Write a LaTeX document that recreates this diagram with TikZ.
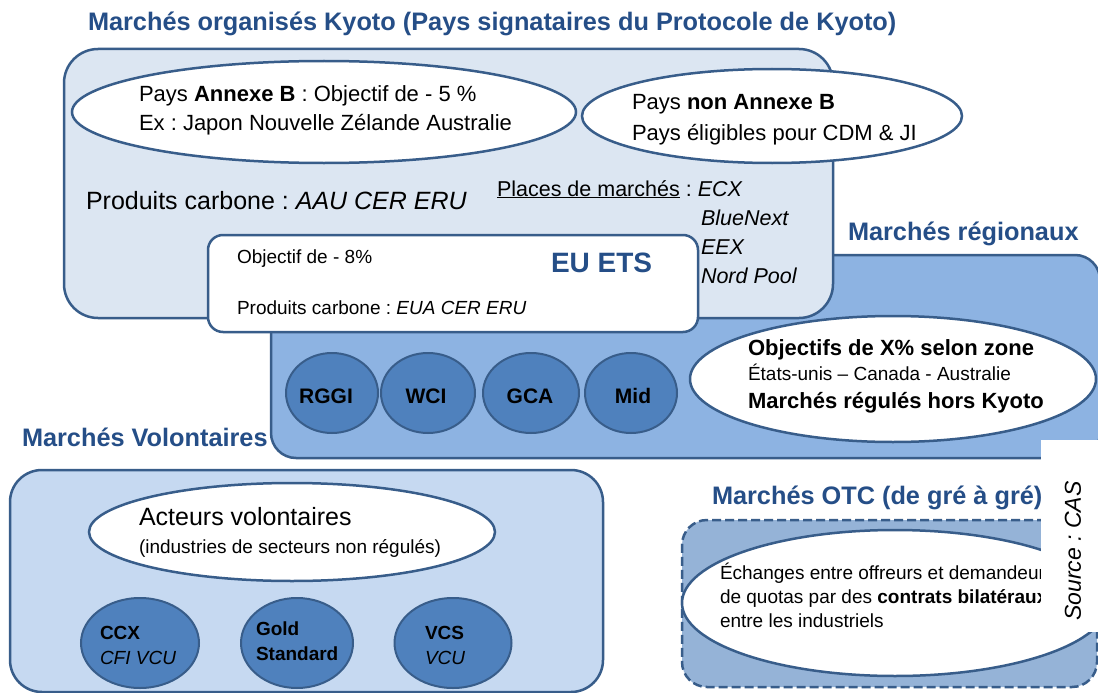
\documentclass[tikz,border=0pt]{standalone}
\usepackage{fontspec}
\setmainfont{Liberation Sans}
\usetikzlibrary{shapes.geometric}
\definecolor{titc}{RGB}{37,78,135}
\definecolor{bordc}{RGB}{56,93,138}
\definecolor{kyfill}{RGB}{220,230,242}
\definecolor{regfill}{RGB}{141,179,226}
\definecolor{circfill}{RGB}{79,129,189}
\definecolor{volfill}{RGB}{198,217,241}
\definecolor{otcfill}{RGB}{149,179,215}
\newcommand{\fsz}[1]{\fontsize{#1}{#1}\selectfont}
\frenchspacing
\begin{document}
\begin{tikzpicture}[x=1pt,y=-1pt,
  box/.style={rectangle, draw=bordc, line width=2.5pt, inner sep=0, outer sep=0},
  ell/.style={ellipse, draw=bordc, line width=2.5pt, fill=white, inner sep=0},
  circ/.style={ellipse, draw=bordc, line width=2pt, fill=circfill, inner sep=0},
  txt/.style={anchor=base west, inner sep=0, outer sep=0, text=black},
  ctxt/.style={anchor=base, inner sep=0, outer sep=0, text=black},
  title/.style={txt, text=titc, font=\fsz{25.3}\bfseries},
]
\useasboundingbox (0,0) rectangle (1098,693);
\clip (0,0) rectangle (1098,693);
\fill[white] (0,0) rectangle (1098,693);

% Regional box (behind)
\node[box, fill=regfill, rounded corners=25pt, minimum width=829pt, minimum height=203pt] (reg) at (685.5,356.5) {};
% Kyoto box
\node[box, fill=kyfill, rounded corners=34pt, minimum width=769pt, minimum height=269pt] (kyoto) at (448.5,183.5) {};
\node[ell, minimum width=504pt, minimum height=102pt] (annb) at (324,112) {};
\node[ell, minimum width=380pt, minimum height=94pt] (nonb) at (772,116) {};
\node[txt, font=\fsz{22}] (annb1) at (139,101) {Pays \textbf{Annexe B} : Objectif de - 5 \%};
\node[txt, font=\fsz{22}] (annb2) at (139,130) {Ex : Japon Nouvelle Zélande Australie};
\node[txt, font=\fsz{22}] (nonb1) at (632,110) {Pays \textbf{non Annexe B}};
\node[txt, font=\fsz{22}] (nonb2) at (632,140) {Pays éligibles pour CDM \& JI};
\node[txt, font=\fsz{25}] (prodky) at (86,209) {Produits carbone : \textit{AAU CER ERU}};

% EU ETS box
\node[box, fill=white, rounded corners=15pt, minimum width=490pt, minimum height=97pt] (euets) at (453,283.5) {};
\node[txt, font=\fsz{19}] (obj8) at (237,263) {Objectif de - 8\%};
\node[txt, font=\fsz{19}] (prodeu) at (237,314) {Produits carbone : \textit{EUA CER ERU}};
\node[txt, text=titc, font=\fsz{28}\bfseries] (eutit) at (551,272) {EU ETS};

% Places de marches
\node[txt, font=\fsz{21.5}] (pl1) at (497,196) {\underline{Places de marchés} : \textit{ECX}};
\node[txt, font=\fsz{21.5}\itshape] (pl2) at (701,225) {BlueNext};
\node[txt, font=\fsz{21.5}\itshape] (pl3) at (701,254) {EEX};
\node[txt, font=\fsz{21.5}\itshape] (pl4) at (701,283) {Nord Pool};

% Regional circles and ellipse
\node[circ, minimum width=92pt, minimum height=80pt] (rggi) at (332,393) {};
\node[circ, minimum width=94pt, minimum height=80pt] (wci) at (428,393) {};
\node[circ, minimum width=96pt, minimum height=80pt] (gca) at (531,393) {};
\node[circ, minimum width=92pt, minimum height=80pt] (mid) at (631,393) {};
\node[ctxt, font=\fsz{21}\bfseries] (rggit) at (326,403) {RGGI};
\node[ctxt, font=\fsz{21}\bfseries] (wcit) at (426,403) {WCI};
\node[ctxt, font=\fsz{21}\bfseries] (gcat) at (530,403) {GCA};
\node[ctxt, font=\fsz{21}\bfseries] (midt) at (633,403) {Mid};
\node[ell, minimum width=406pt, minimum height=126pt] (regell) at (893,379) {};
\node[txt, font=\fsz{22}\bfseries] (reg1) at (748,355) {Objectifs de X\% selon zone};
\node[txt, font=\fsz{19}] (reg2) at (748,380) {États-unis – Canada - Australie};
\node[txt, font=\fsz{22}\bfseries] (reg3) at (748,408) {Marchés régulés hors Kyoto};

% Voluntary
\node[box, fill=volfill, rounded corners=32pt, minimum width=593pt, minimum height=222pt] (vol) at (306.5,581) {};
\node[ell, minimum width=406pt, minimum height=98pt] (act) at (292,532) {};
\node[txt, font=\fsz{25}] (act1) at (139,525) {Acteurs volontaires};
\node[txt, font=\fsz{19}] (act2) at (139,553) {(industries de secteurs non régulés)};
\node[circ, minimum width=118pt, minimum height=90pt] (ccx) at (140,643) {};
\node[circ, minimum width=112pt, minimum height=90pt] (gold) at (297,643) {};
\node[circ, minimum width=117pt, minimum height=90pt] (vcs) at (453,643) {};
\node[txt, font=\fsz{19}\bfseries] (ccx1) at (100,639) {CCX};
\node[txt, font=\fsz{19}\itshape] (ccx2) at (100,664) {CFI VCU};
\node[txt, font=\fsz{19}\bfseries] (gold1) at (256,635) {Gold};
\node[txt, font=\fsz{19}\bfseries] (gold2) at (256,660) {Standard};
\node[txt, font=\fsz{19}\bfseries] (vcs1) at (425,639) {VCS};
\node[txt, font=\fsz{19}\itshape] (vcs2) at (425,664) {VCU};

% OTC
\node[box, fill=otcfill, dash pattern=on 9pt off 4pt, rounded corners=25pt, minimum width=415pt, minimum height=167pt] (otc) at (889.5,603.5) {};
\node[ell, minimum width=426pt, minimum height=146pt] (otcell) at (895,603) {};
\node[txt, font=\fsz{19}] (otc1) at (720,579) {Échanges entre offreurs et demandeurs};
\node[txt, font=\fsz{19}] (otc2) at (720,603) {de quotas par des \textbf{contrats bilatéraux}};
\node[txt, font=\fsz{19}] (otc3) at (720,627) {entre les industriels};

% Titles
\node[title] (t1) at (88,31) {Marchés organisés Kyoto (Pays signataires du Protocole de Kyoto)};
\node[title] (t2) at (848,240) {Marchés régionaux};
\node[title] (t3) at (22,446) {Marchés Volontaires};
\node[title] (t4) at (712,504) {Marchés OTC (de gré à gré)};

% Source
\node[fill=white, inner sep=0, outer sep=0, minimum width=57pt, minimum height=192pt] (src) at (1069.5,536) {};
\node[rotate=90, inner sep=0, font=\fsz{23}\itshape] (srct) at (1073,551) {Source : CAS};
\end{tikzpicture}
\end{document}
